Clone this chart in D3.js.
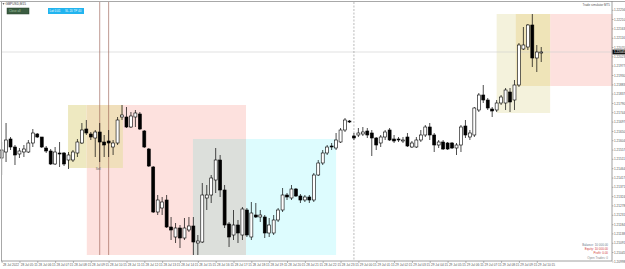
<!DOCTYPE html>
<html><head><meta charset="utf-8">
<script src="https://cdn.jsdelivr.net/npm/d3@7"></script>
<style>html,body{margin:0;padding:0;background:#fff;overflow:hidden}svg{display:block;font-family:"Liberation Sans",Arial,sans-serif}</style>
</head><body><svg id="c" width="625" height="269"></svg>
<script>
// ---------- DATA ----------
const symbolTitle = "GBPUSD,M15";
// [open, high, low, close]
const candles = [
[1.21515,1.21595,1.21430,1.21555],[1.21545,1.21690,1.21495,1.21605],[1.21610,1.21620,1.21555,1.21570],[1.21570,1.21580,1.21480,1.21530],
[1.21535,1.21565,1.21515,1.21550],[1.21545,1.21580,1.21520,1.21560],[1.21545,1.21605,1.21540,1.21590],[1.21590,1.21660,1.21570,1.21640],
[1.21635,1.21640,1.21615,1.21620],[1.21620,1.21620,1.21565,1.21570],[1.21565,1.21575,1.21540,1.21550],[1.21550,1.21560,1.21480,1.21485],
[1.21485,1.21570,1.21480,1.21545],[1.21540,1.21595,1.21470,1.21535],[1.21540,1.21545,1.21475,1.21485],[1.21505,1.21545,1.21460,1.21530],
[1.21505,1.21555,1.21495,1.21545],[1.21540,1.21610,1.21520,1.21595],[1.21590,1.21690,1.21585,1.21655],[1.21660,1.21705,1.21630,1.21640],
[1.21635,1.21645,1.21605,1.21620],[1.21615,1.21655,1.21520,1.21645],[1.21645,1.21690,1.21495,1.21595],[1.21595,1.21630,1.21520,1.21580],
[1.21600,1.21655,1.21520,1.21590],[1.21570,1.21605,1.21530,1.21590],[1.21590,1.21720,1.21580,1.21705],[1.21720,1.21780,1.21705,1.21730],
[1.21720,1.21770,1.21665,1.21670],[1.21670,1.21745,1.21665,1.21725],[1.21720,1.21755,1.21670,1.21740],[1.21735,1.21745,1.21655,1.21660],
[1.21650,1.21655,1.21565,1.21570],[1.21560,1.21565,1.21470,1.21475],[1.21470,1.21475,1.21240,1.21245],[1.21245,1.21330,1.21230,1.21305],
[1.21265,1.21320,1.21230,1.21295],[1.21305,1.21330,1.21165,1.21170],[1.21170,1.21220,1.21105,1.21155],[1.21120,1.21190,1.21090,1.21165],
[1.21165,1.21180,1.21065,1.21115],[1.21115,1.21215,1.21105,1.21165],[1.21155,1.21220,1.21145,1.21175],[1.21175,1.21220,1.21030,1.21095],
[1.21090,1.21130,1.21030,1.21100],[1.21095,1.21390,1.21090,1.21330],[1.21315,1.21380,1.21255,1.21330],[1.21330,1.21430,1.21290,1.21415],
[1.21405,1.21565,1.21340,1.21505],[1.21505,1.21530,1.21320,1.21355],[1.21355,1.21380,1.21165,1.21180],[1.21185,1.21195,1.21070,1.21120],
[1.21130,1.21255,1.21105,1.21180],[1.21180,1.21205,1.21090,1.21140],[1.21130,1.21270,1.21105,1.21260],[1.21255,1.21265,1.21120,1.21130],
[1.21120,1.21295,1.21105,1.21240],[1.21230,1.21290,1.21215,1.21220],[1.21220,1.21255,1.21195,1.21230],[1.21220,1.21230,1.21115,1.21140],
[1.21140,1.21215,1.21120,1.21180],[1.21140,1.21230,1.21130,1.21205],[1.21205,1.21265,1.21195,1.21255],[1.21255,1.21365,1.21245,1.21330],
[1.21330,1.21340,1.21305,1.21320],[1.21315,1.21380,1.21305,1.21360],[1.21360,1.21365,1.21320,1.21325],[1.21325,1.21335,1.21290,1.21305],
[1.21305,1.21330,1.21295,1.21320],[1.21320,1.21330,1.21290,1.21305],[1.21305,1.21440,1.21295,1.21430],[1.21430,1.21505,1.21425,1.21490],
[1.21490,1.21555,1.21480,1.21540],[1.21540,1.21580,1.21530,1.21570],[1.21575,1.21590,1.21555,1.21570],[1.21565,1.21640,1.21555,1.21605],
[1.21595,1.21665,1.21590,1.21655],[1.21655,1.21715,1.21645,1.21705],[1.21700,1.21705,1.21690,1.21695],[1.21625,1.21640,1.21605,1.21615],
[1.21630,1.21665,1.21620,1.21640],[1.21635,1.21670,1.21625,1.21645],[1.21650,1.21665,1.21615,1.21630],[1.21640,1.21655,1.21525,1.21615],
[1.21615,1.21620,1.21555,1.21580],[1.21590,1.21630,1.21570,1.21620],[1.21620,1.21655,1.21605,1.21645],[1.21655,1.21665,1.21600,1.21605],
[1.21610,1.21630,1.21590,1.21600],[1.21610,1.21620,1.21595,1.21605],[1.21600,1.21620,1.21590,1.21605],[1.21620,1.21640,1.21570,1.21575],
[1.21570,1.21600,1.21565,1.21590],[1.21570,1.21620,1.21565,1.21605],[1.21605,1.21655,1.21595,1.21630],[1.21630,1.21680,1.21620,1.21670],
[1.21670,1.21690,1.21605,1.21630],[1.21630,1.21640,1.21545,1.21580],[1.21580,1.21605,1.21565,1.21595],[1.21595,1.21605,1.21555,1.21560],
[1.21590,1.21595,1.21555,1.21560],[1.21590,1.21595,1.21560,1.21565],[1.21565,1.21590,1.21530,1.21580],[1.21580,1.21680,1.21545,1.21670],
[1.21675,1.21705,1.21615,1.21630],[1.21620,1.21655,1.21605,1.21640],[1.21630,1.21770,1.21620,1.21765],[1.21755,1.21840,1.21745,1.21830],
[1.21830,1.21880,1.21790,1.21805],[1.21805,1.21815,1.21755,1.21765],[1.21760,1.21770,1.21720,1.21750],[1.21755,1.21805,1.21745,1.21790],
[1.21790,1.21830,1.21780,1.21820],[1.21790,1.21865,1.21755,1.21855],[1.21845,1.21865,1.21745,1.21795],[1.21805,1.21905,1.21755,1.21880],
[1.21880,1.22090,1.21870,1.22080],[1.22060,1.22170,1.22055,1.22080],[1.22070,1.22185,1.22055,1.22180],[1.22180,1.22235,1.21970,1.22015],
[1.22015,1.22080,1.21945,1.22045],[1.22040,1.22070,1.21995,1.22045]
];
const timeTickIndex = [0,4,8,12,16,20,24,28,32,36,40,44,48,52,56,60,64,68,72,76,80,84,88,92,96,100,104,108,112,116,120];
const timeTickLabels = ["28 Jul 2022","28 Jul 05:15","28 Jul 06:15","28 Jul 07:15","28 Jul 08:15","28 Jul 09:15","28 Jul 10:15","28 Jul 11:15",
"28 Jul 12:15","28 Jul 13:15","28 Jul 14:15","28 Jul 15:15","28 Jul 16:15","28 Jul 17:15","28 Jul 18:15","28 Jul 19:15","28 Jul 20:15",
"28 Jul 21:15","28 Jul 22:15","28 Jul 23:15","29 Jul 00:15","29 Jul 01:15","29 Jul 02:15","29 Jul 03:15","29 Jul 04:15","29 Jul 05:15",
"29 Jul 06:15","29 Jul 07:15","29 Jul 08:15","29 Jul 09:15","29 Jul 10:15"];
const priceTicks = [1.20998,1.21045,1.21091,1.21138,1.21184,1.21231,1.21278,1.21324,1.21371,1.21417,1.21464,1.21511,1.21557,1.21604,
1.21650,1.21697,1.21744,1.21790,1.21837,1.21883,1.21930,1.21977,1.22023,1.22070,1.22116,1.22163,1.22210,1.22256];
// shaded trade zones: [fromIndex, toIndex, highPrice, lowPrice, fill]
const zones = [
[14.9,19.1,1.21780,1.21465,"#eee9c1"],
[19.1,54.8,1.21780,1.21030,"#fde1de"],
[19.1,27.2,1.21780,1.21465,"#f0dfbb"],
[42.9,54.8,1.21610,1.21030,"#dcdfdb"],
[54.8,75.0,1.21610,1.21030,"#ddfcfe"],
[111.0,123.0,1.22235,1.21740,"#f4f2dc"],
[123.0,137.0,1.22235,1.21875,"#fde1de"],
[115.3,123.0,1.22235,1.21875,"#efe4b8"]
];
const markerLines = [22, 24];      // brown vertical lines (bar index)
const separatorIndex = 79;         // dashed day separator
const infoLines = [["Balance: 10 000.00","#6b7b8c"],["Equity: 10 000.00","#d23c3c"],["Profit: 0.00","#d23c3c"],["Open Trades: 0","#8a8a8a"]];

// ---------- CHART ----------
const svg = d3.select("#c");
const W = 625, H = 269, plotR = 612, plotB = 261, plotT = 2;
const x = d3.scaleLinear().domain([0, 137]).range([1.6, 612.6]);
const y = d3.scaleLinear().domain([1.21, 1.2225]).range([261, 11]);

svg.append("rect").attr("width",W).attr("height",H).attr("fill","#fff");

// zones
svg.append("g").selectAll("rect").data(zones).join("rect")
  .attr("x", d => x(d[0])).attr("width", d => x(d[1]) - x(d[0]))
  .attr("y", d => y(d[2])).attr("height", d => y(d[3]) - y(d[2]))
  .attr("fill", d => d[4]);

// current price line
const last = candles[candles.length-1][3];
svg.append("line").attr("x1",2).attr("x2",plotR).attr("y1",y(last)).attr("y2",y(last))
  .attr("stroke","#cfcfcf").attr("stroke-width",0.6);

// separator
svg.append("line").attr("x1",x(separatorIndex)).attr("x2",x(separatorIndex)).attr("y1",plotT).attr("y2",plotB)
  .attr("stroke","#8c8c8c").attr("stroke-width",0.6).attr("stroke-dasharray","2,1.5");

// brown markers
svg.append("g").selectAll("line").data(markerLines).join("line")
  .attr("x1", d => x(d)).attr("x2", d => x(d)).attr("y1", plotT).attr("y2", 255)
  .attr("stroke","#94574a").attr("stroke-width",0.6);

// candles
const cg = svg.append("g");
candles.forEach((c,i) => {
  const [o,h,l,cl] = c;
  const cx = x(i);
  const bull = cl >= o;
  cg.append("line").attr("x1",cx).attr("x2",cx).attr("y1",y(h)).attr("y2",y(l))
    .attr("stroke","#000").attr("stroke-width",0.7);
  const top = y(Math.max(o,cl)), bot = y(Math.min(o,cl));
  cg.append("rect").attr("x",cx-1.5).attr("width",3)
    .attr("y",top).attr("height",Math.max(0.8, bot-top))
    .attr("fill", bull ? "#fff" : "#000").attr("stroke","#000").attr("stroke-width",0.6);
});

// sell label
svg.append("text").attr("x",x(22)-4).attr("y",170).attr("font-size",3).attr("fill","#555").text("Sell");

// frame
svg.append("line").attr("x1",0).attr("x2",W).attr("y1",1.5).attr("y2",1.5).attr("stroke","#a8a8a8").attr("stroke-width",1);
svg.append("line").attr("x1",1.5).attr("x2",1.5).attr("y1",1).attr("y2",plotB).attr("stroke","#a8a8a8").attr("stroke-width",1);
svg.append("line").attr("x1",plotR).attr("x2",plotR).attr("y1",1).attr("y2",plotB).attr("stroke","#888").attr("stroke-width",0.8);
svg.append("line").attr("x1",1).attr("x2",plotR).attr("y1",plotB).attr("y2",plotB).attr("stroke","#888").attr("stroke-width",0.8);

// time axis
const xAxis = d3.axisBottom(x).tickValues(timeTickIndex)
  .tickFormat((d,i) => timeTickLabels[i]).tickSize(2).tickSizeOuter(0);
const gx = svg.append("g").attr("transform",`translate(0,${plotB})`).call(xAxis);
gx.select(".domain").remove();
gx.selectAll("line").attr("stroke","#777").attr("stroke-width",0.5);
gx.selectAll("text").attr("font-size",3.1).attr("fill","#555").attr("text-anchor","start")
  .attr("x",0.8).attr("y",3).attr("dy","0.71em").style("font-family","Liberation Sans, Arial");

// price axis
const yAxis = d3.axisRight(y).tickValues(priceTicks).tickFormat(d3.format(".5f")).tickSize(1.5).tickSizeOuter(0);
const gy = svg.append("g").attr("transform",`translate(${plotR},0)`).call(yAxis);
gy.select(".domain").remove();
gy.selectAll("line").attr("stroke","#777").attr("stroke-width",0.5);
gy.selectAll("text").attr("font-size",3.1).attr("fill","#555").attr("x",2).style("font-family","Liberation Sans, Arial");

// current price tag
svg.append("rect").attr("x",plotR+0.5).attr("y",y(last)-2.4).attr("width",12.5).attr("height",4.8).attr("fill","#111");
svg.append("text").attr("x",plotR+2).attr("y",y(last)+1.1).attr("font-size",3.1).attr("fill","#fff").text(d3.format(".5f")(last));

// title and buttons
svg.append("path").attr("d","M2.5,3.2 L4.5,3.2 L3.5,4.8 Z").attr("fill","#333");
svg.append("text").attr("x",5.5).attr("y",5.3).attr("font-size",3.2).attr("fill","#333").text(symbolTitle);
svg.append("rect").attr("x",7).attr("y",8).attr("width",22).attr("height",6).attr("fill","#3b5d41").attr("stroke","#27402b").attr("stroke-width",0.5);
svg.append("text").attr("x",9).attr("y",12).attr("font-size",3).attr("fill","#a8c8a8").text("Close all");
svg.append("rect").attr("x",48).attr("y",8).attr("width",36).attr("height",6).attr("fill","#22b4ef");
svg.append("text").attr("x",49.5).attr("y",12).attr("font-size",3).attr("fill","#fff").text("Lot 0.01");
svg.append("text").attr("x",65).attr("y",12).attr("font-size",3).attr("fill","#e8f8ff").text("SL 20   TP 40");

svg.append("text").attr("x",610).attr("y",5.5).attr("font-size",3).attr("fill","#555").attr("text-anchor","end").text("Trade simulator MT5");

svg.append("g").selectAll("text").data(infoLines).join("text")
  .attr("x",608).attr("y",(d,i)=>245.5 + i*4.4).attr("font-size",3).attr("text-anchor","end")
  .attr("fill",d=>d[1]).text(d=>d[0]);
</script></body></html>
